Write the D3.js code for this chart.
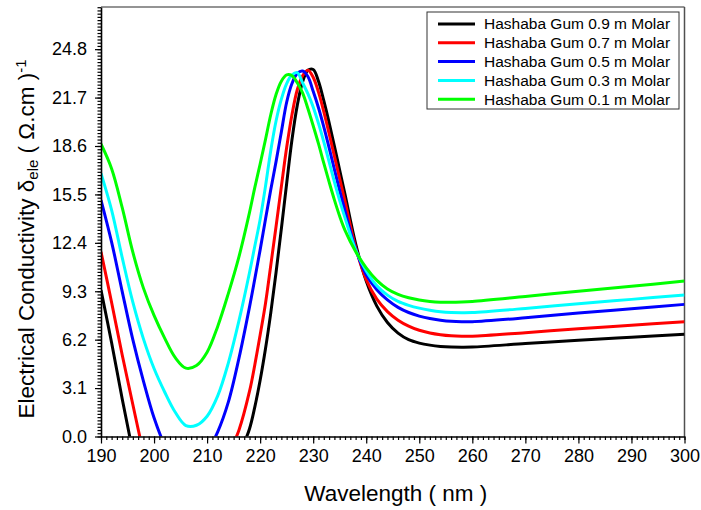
<!DOCTYPE html>
<html>
<head>
<meta charset="utf-8">
<script src="https://cdnjs.cloudflare.com/ajax/libs/d3/7.8.5/d3.min.js"></script>
<style>
    body { margin: 0; background: #ffffff; }
    text { font-family: "Liberation Sans", Arial, sans-serif; fill: #000; }
</style>
</head>
<body>
<div class="conductivity_chart"></div>
<script>

// wavelength (nm)
var wavelength = [190, 192, 194, 196, 198, 200, 202, 204, 206, 208, 210, 212, 214, 216,
    218, 219, 220, 221, 222, 223, 224, 225, 226, 227, 228, 229, 230, 231, 232, 233, 234, 235, 236,
    238, 240, 242, 244, 246, 248, 250, 252, 254, 256, 258, 260, 270, 280, 290, 300];

// electrical conductivity for each concentration
var gum09 = [9.38, 6.0, 2.4, -1.0, -4.1, -6.5, -8.2, -9.2, -9.5, -9.0, -7.6, -5.6, -3.4, -1.3,
    0.5, 1.9, 3.6, 5.6, 7.9, 10.5, 13.3, 16.2, 19.0, 21.2, 22.7, 23.45, 23.5, 22.75, 21.5, 20.1, 18.6, 17.05, 15.5,
    12.35, 9.95, 8.35, 7.3, 6.62, 6.2, 5.98, 5.85, 5.77, 5.73, 5.72, 5.73, 5.95, 6.17, 6.36, 6.54];
var gum07 = [11.83, 8.58, 5.22, 2.05, -1.0, -3.4, -5.0, -5.9, -6.2, -5.8, -4.6, -3.0, -1.2, 0.4,
    2.9, 4.6, 6.5, 8.5, 10.95, 13.45, 16.0, 18.5, 20.6, 22.2, 23.1, 23.45, 23.0, 22.05, 20.8, 19.4, 17.95, 16.5, 15.05,
    12.1, 10.05, 8.8, 8.0, 7.45, 7.07, 6.8, 6.63, 6.52, 6.45, 6.42, 6.42, 6.65, 6.9, 7.12, 7.35];
var gum05 = [15.14, 12.45, 9.28, 6.2, 3.55, 1.2, -0.55, -1.7, -2.2, -1.9, -1.0, 0.3, 2.2, 5.0,
    8.3, 10.1, 11.95, 13.9, 15.8, 17.6, 19.5, 21.4, 22.6, 23.25, 23.4, 23.05, 22.1, 21.05, 19.83, 18.5, 17.1, 15.75, 14.45,
    12.0, 10.35, 9.4, 8.75, 8.27, 7.94, 7.71, 7.55, 7.45, 7.38, 7.35, 7.35, 7.6, 7.9, 8.18, 8.46];
var gum03 = [16.85, 14.5, 11.45, 8.6, 6.25, 4.35, 2.85, 1.55, 0.7, 0.72, 1.3, 2.6, 4.7, 7.4,
    10.5, 12.2, 13.9, 16.0, 18.3, 20.2, 21.6, 22.6, 23.15, 23.3, 22.65, 21.95, 21.1, 20.05, 18.87, 17.6, 16.3, 15.1, 14.0,
    11.95, 10.6, 9.65, 9.05, 8.65, 8.4, 8.22, 8.09, 7.99, 7.94, 7.93, 7.94, 8.2, 8.5, 8.78, 9.06];
var gum01 = [18.73, 17.15, 14.65, 11.8, 9.5, 7.75, 6.3, 5.05, 4.38, 4.55, 5.4, 7.05, 9.15, 11.5,
    14.35, 15.95, 17.45, 19.0, 20.6, 21.9, 22.75, 23.15, 23.1, 22.65, 22.0, 21.0, 19.9, 18.75, 17.5, 16.3, 15.15, 14.1, 13.2,
    11.85, 10.8, 10.0, 9.45, 9.1, 8.88, 8.74, 8.65, 8.6, 8.59, 8.61, 8.65, 8.97, 9.3, 9.62, 9.95];

var seriesNames = ["Hashaba Gum 0.9 m Molar", "Hashaba Gum 0.7 m Molar", "Hashaba Gum 0.5 m Molar",
    "Hashaba Gum 0.3 m Molar", "Hashaba Gum 0.1 m Molar"];
var seriesColors = ["#000000", "#ff0000", "#0000ff", "#00ffff", "#00ff00"];
var seriesValues = [gum09, gum07, gum05, gum03, gum01];

var xTicks = [190, 200, 210, 220, 230, 240, 250, 260, 270, 280, 290, 300];
var yTicks = [0.0, 3.1, 6.2, 9.3, 12.4, 15.5, 18.6, 21.7, 24.8];

drawChart(".conductivity_chart");

function drawChart(div) {
    var div_width = 701;
    var div_height = 510;
    var left = 101, right = 684.5, top = 7, bottom = 436.5;

    var svg = d3.select(div).append("svg")
        .attr("width", div_width)
        .attr("height", div_height);

    var x = d3.scaleLinear().domain([190, 300]).range([left, right]);
    var y = d3.scaleLinear().domain([0, 27.5]).range([bottom, top]);

    svg.append("defs").append("clipPath")
        .attr("id", "plotClip")
        .append("rect")
        .attr("x", left)
        .attr("y", top)
        .attr("width", right - left)
        .attr("height", bottom - top);

    // frame top / right
    svg.append("line")
        .attr("x1", left).attr("x2", right)
        .attr("y1", top).attr("y2", top)
        .attr("stroke", "#707070").attr("stroke-width", 1.5);
    svg.append("line")
        .attr("x1", right).attr("x2", right)
        .attr("y1", top).attr("y2", bottom)
        .attr("stroke", "#505050").attr("stroke-width", 1.5);

    // curves
    var line = d3.line()
        .x(function (d, i) { return x(wavelength[i]); })
        .y(function (d) { return y(d); })
        .curve(d3.curveCatmullRom.alpha(0.5));

    var g = svg.append("g").attr("clip-path", "url(#plotClip)");
    for (var s = 0; s < seriesValues.length; s++) {
        g.append("path")
            .attr("d", line(seriesValues[s]))
            .attr("fill", "none")
            .attr("stroke", seriesColors[s])
            .attr("stroke-width", 3)
            .attr("stroke-linejoin", "round");
    }

    // minor ticks
    var xMinor = d3.range(190, 300.5, 1);
    svg.append("g")
        .attr("transform", "translate(0," + bottom + ")")
        .call(d3.axisBottom(x).tickValues(xMinor).tickSize(3.5).tickFormat(""))
        .call(function (a) { a.select(".domain").remove(); });

    var yMinor = d3.range(0, 27.5, 3.1 / 15);
    svg.append("g")
        .attr("transform", "translate(" + left + ",0)")
        .call(d3.axisLeft(y).tickValues(yMinor).tickSize(3.5).tickFormat(""))
        .call(function (a) { a.select(".domain").remove(); });

    // major axes
    var xAxis = svg.append("g")
        .attr("transform", "translate(0," + bottom + ")")
        .call(d3.axisBottom(x).tickValues(xTicks).tickSize(7).tickPadding(6).tickSizeOuter(0));
    xAxis.selectAll("text").style("font-size", "18px").attr("dy", "0.71em");

    var yAxis = svg.append("g")
        .attr("transform", "translate(" + left + ",0)")
        .call(d3.axisLeft(y).tickValues(yTicks).tickSize(6).tickPadding(8).tickSizeOuter(0)
            .tickFormat(d3.format(".1f")));
    yAxis.selectAll("text").style("font-size", "18px");

    svg.selectAll(".tick line").attr("stroke", "#000").attr("stroke-width", 1.2);
    svg.selectAll(".domain").attr("stroke", "#000").attr("stroke-width", 1.6);
    svg.selectAll(".tick text").attr("fill", "#000").style("font-family", "'Liberation Sans', Arial, sans-serif");

    // axis titles
    svg.append("text")
        .attr("x", (left + right) / 2 + 3)
        .attr("y", 501)
        .attr("text-anchor", "middle")
        .style("font-size", "22.5px")
        .text("Wavelength ( nm )");

    var yt = svg.append("text")
        .attr("transform", "translate(34,239) rotate(-90)")
        .attr("text-anchor", "middle")
        .style("font-size", "22.5px");
    yt.append("tspan").text("Electrical Conductivity \u03b4");
    yt.append("tspan").attr("baseline-shift", "-25%").style("font-size", "15px").text("ele");
    yt.append("tspan").text(" ( \u03a9.cm )");
    yt.append("tspan").attr("baseline-shift", "55%").style("font-size", "15px").text("-1");

    // legend
    var lg = svg.append("g");
    lg.append("rect")
        .attr("x", 427).attr("y", 12)
        .attr("width", 252).attr("height", 97)
        .attr("fill", "#fff")
        .attr("stroke", "#333").attr("stroke-width", 1);
    for (var k = 0; k < seriesNames.length; k++) {
        var ly = 24 + k * 18.8;
        lg.append("line")
            .attr("x1", 438).attr("x2", 475)
            .attr("y1", ly).attr("y2", ly)
            .attr("stroke", seriesColors[k])
            .attr("stroke-width", 3);
        lg.append("text")
            .attr("x", 484).attr("y", ly + 5.4)
            .style("font-size", "15.5px")
            .text(seriesNames[k]);
    }
}
</script>
</body>
</html>
